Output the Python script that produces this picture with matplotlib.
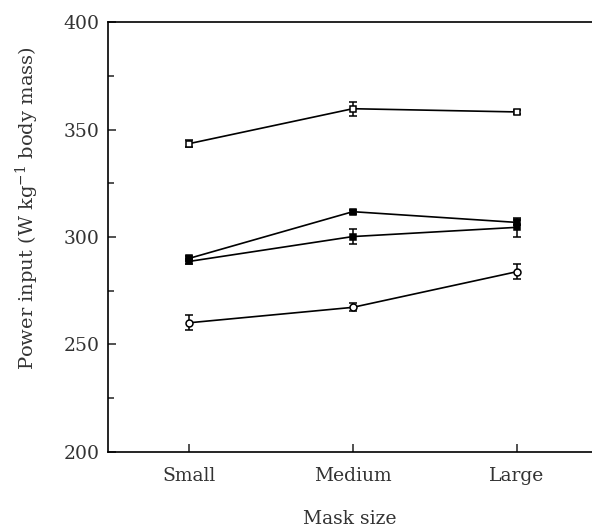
import matplotlib
matplotlib.use("Agg")
import matplotlib.pyplot as plt
from matplotlib.ticker import MultipleLocator

plt.rcParams['font.family'] = ['DejaVu Serif']

# data
sizes = ['Small', 'Medium', 'Large']
top_open = [343.5, 359.8, 358.3]
top_open_err = [1.5, 3.3, 1.0]
peak_filled = [290.0, 311.8, 306.8]
peak_filled_err = [1.0, 1.0, 1.0]
mid_filled = [288.6, 300.2, 304.5]
mid_filled_err = [1.0, 3.5, 4.5]
low_open = [260.0, 267.2, 283.8]
low_open_err = [3.5, 1.8, 3.6]

x = range(len(sizes))

fig = plt.figure(figsize=(5.92, 5.29), dpi=100)
ax = fig.add_axes([0.1824, 0.1465, 0.8176, 0.811])

common = dict(color='black', lw=1.2, capsize=2.8, elinewidth=1.1, capthick=1.1, ms=5, mew=1.1)
ax.errorbar(x, top_open, yerr=top_open_err, marker='s', mfc='white', mec='black', **common)
ax.errorbar(x, peak_filled, yerr=peak_filled_err, marker='s', mfc='black', mec='black', **common)
ax.errorbar(x, mid_filled, yerr=mid_filled_err, marker='s', mfc='black', mec='black', **common)
ax.errorbar(x, low_open, yerr=low_open_err, marker='o', mfc='white', mec='black', **common)

ax.set_xlim(-0.494, 2.46)
ax.set_ylim(200, 400)
ax.set_xticks(list(x))
ax.set_xticklabels(sizes)
ax.yaxis.set_major_locator(MultipleLocator(50))
ax.yaxis.set_minor_locator(MultipleLocator(25))

ax.spines['right'].set_visible(False)
for s in ['left', 'bottom', 'top']:
    ax.spines[s].set_linewidth(1.2)

ax.tick_params(axis='both', which='both', direction='in', top=False, right=False,
               labelsize=13.5, width=1.1, colors='#222222', labelcolor='#333333')
ax.tick_params(axis='x', which='major', length=6, pad=11)
ax.tick_params(axis='y', which='major', length=6, pad=6)
ax.tick_params(axis='y', which='minor', length=4)

ax.set_xlabel('Mask size', fontsize=13.5, color='#333333')
ax.xaxis.set_label_coords(0.5, -0.136)
ax.set_ylabel('Power input (W kg$^{\\mathregular{-1}}$ body mass)', fontsize=14, color='#333333')
ax.yaxis.set_label_coords(-0.138, 0.568)

fig.savefig('out.png', dpi=100)
